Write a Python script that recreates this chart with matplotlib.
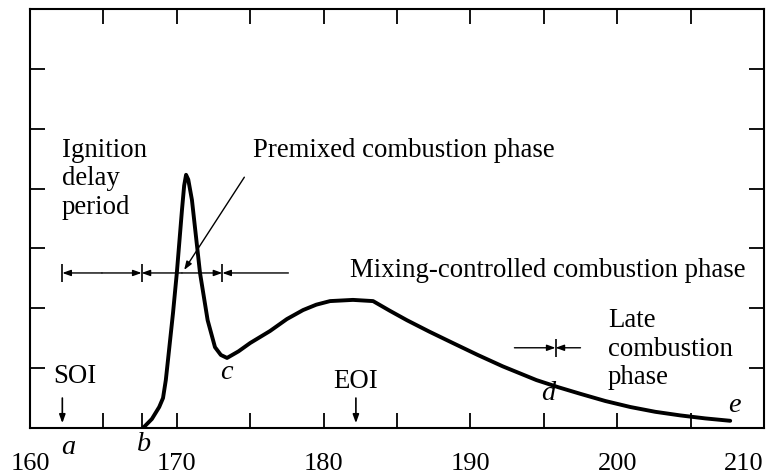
import numpy as np
import matplotlib
matplotlib.use("Agg")
from matplotlib import pyplot as plt

# heat release curve (crank angle, arbitrary units)
crank = [167.7, 168.3, 168.8, 169.06, 169.25, 169.4, 169.74, 170.0, 170.35, 170.5,
         170.63, 170.78, 171.03, 171.58, 172.1, 172.6, 173.0, 173.42, 174.2, 175.0,
         176.35, 177.5, 178.6, 179.5, 180.44, 182.0, 183.37, 184.5, 185.68, 187.2,
         188.8, 190.5, 192.2, 194.5, 196.0, 197.5, 199.2, 200.9, 202.6, 204.3,
         206.0, 207.7]
heat = [0.0, 0.15, 0.35, 0.5, 0.8, 1.14, 1.92, 2.59, 3.64, 4.05,
        4.23, 4.15, 3.81, 2.59, 1.80, 1.35, 1.22, 1.17, 1.28, 1.42,
        1.62, 1.82, 1.97, 2.06, 2.12, 2.14, 2.12, 1.96, 1.80, 1.61,
        1.42, 1.22, 1.03, 0.80, 0.68, 0.57, 0.45, 0.35, 0.27, 0.21,
        0.16, 0.12]

# event points
soi = 162.2    # a
soc = 167.6    # b
pm_end = 173.1  # c
eoi = 182.2
late = 195.8   # d
end = 207.7    # e

xtick_vals = [160, 165, 170, 175, 180, 185, 190, 195, 200, 205, 210]
xtick_labels = ["160", "", "170", "", "180", "", "190", "", "200", "", "210"]

plt.rcParams['font.family'] = ['Liberation Serif', 'DejaVu Serif']
fs = 19.3

fig = plt.figure(figsize=(7.76, 4.75), dpi=100)
ax = fig.add_axes([0.0387, 0.099, 0.9458, 0.882])
ax.plot(crank, heat, color="black", lw=2.8, solid_capstyle="round",
        solid_joinstyle="round")

ax.set_xlim(160, 210)
ax.set_ylim(0, 7)
for s in ax.spines.values():
    s.set_linewidth(1.5)

ax.set_xticks(xtick_vals)
ax.set_xticklabels(xtick_labels, fontsize=19)
ax.get_xticklabels()[-1].set_horizontalalignment("right")
ax.set_xticks([soc], minor=True)
ax.set_yticks(range(0, 8))
ax.set_yticklabels([])
ax.tick_params(which="both", direction="in", length=11, width=1.3,
               top=True, right=True, pad=18)
ax.tick_params(which="minor", top=False)

# dimension lines for the phases
yb = 2.59
hw = dict(arrowstyle="-|>,head_length=0.5,head_width=0.18", color="black", lw=1.0,
          shrinkA=0, shrinkB=0)
for x0, x1 in [(soi, soc), (soc, pm_end)]:
    mid = (x0 + x1) / 2
    ax.annotate("", xy=(x0, yb), xytext=(mid, yb), arrowprops=hw)
    ax.annotate("", xy=(x1, yb), xytext=(mid, yb), arrowprops=hw)
ax.annotate("", xy=(pm_end, yb), xytext=(177.6, yb), arrowprops=hw)
ax.vlines([soi, soc, pm_end], yb - 0.15, yb + 0.15, color="black", lw=1.2)

yl = 1.34
ax.annotate("", xy=(late, yl), xytext=(193.0, yl), arrowprops=hw)
ax.annotate("", xy=(late, yl), xytext=(197.5, yl), arrowprops=hw)
ax.vlines([late], yl - 0.15, yl + 0.15, color="black", lw=1.2)

# premixed pointer
ax.annotate("", xy=(170.5, 2.64), xytext=(174.6, 4.19),
            arrowprops=dict(arrowstyle="-|>,head_length=0.5,head_width=0.18",
                            color="black", lw=1.0, shrinkA=0, shrinkB=0))

# SOI / EOI arrows
for x in [soi, eoi]:
    ax.annotate("", xy=(x, 0.08), xytext=(x, 0.5),
                arrowprops=dict(arrowstyle="-|>,head_length=0.5,head_width=0.18",
                                color="black", lw=1.2, shrinkA=0, shrinkB=0))

ax.text(162.18, 4.85, "Ignition\ndelay\nperiod", fontsize=fs, va="top", ha="left",
        linespacing=1.18)
ax.text(175.19, 4.53, "Premixed combustion phase", fontsize=fs, va="baseline")
ax.text(181.8, 2.52, "Mixing-controlled combustion phase", fontsize=fs, va="baseline")
ax.text(199.37, 2.0, "Late\ncombustion\nphase", fontsize=fs, va="top", ha="left",
        linespacing=1.18)
ax.text(161.57, 0.75, "SOI", fontsize=fs, va="baseline")
ax.text(eoi, 0.67, "EOI", fontsize=fs, va="baseline", ha="center")

for lab, x, y in [("a", 162.6, -0.32), ("b", 167.77, -0.28), ("c", 173.4, 0.92),
                  ("d", 195.3, 0.58), ("e", 208.0, 0.38)]:
    ax.text(x, y, lab, fontsize=fs + 1, style="italic", ha="center", va="center",
            clip_on=False)

fig.savefig("out.png", dpi=100)
